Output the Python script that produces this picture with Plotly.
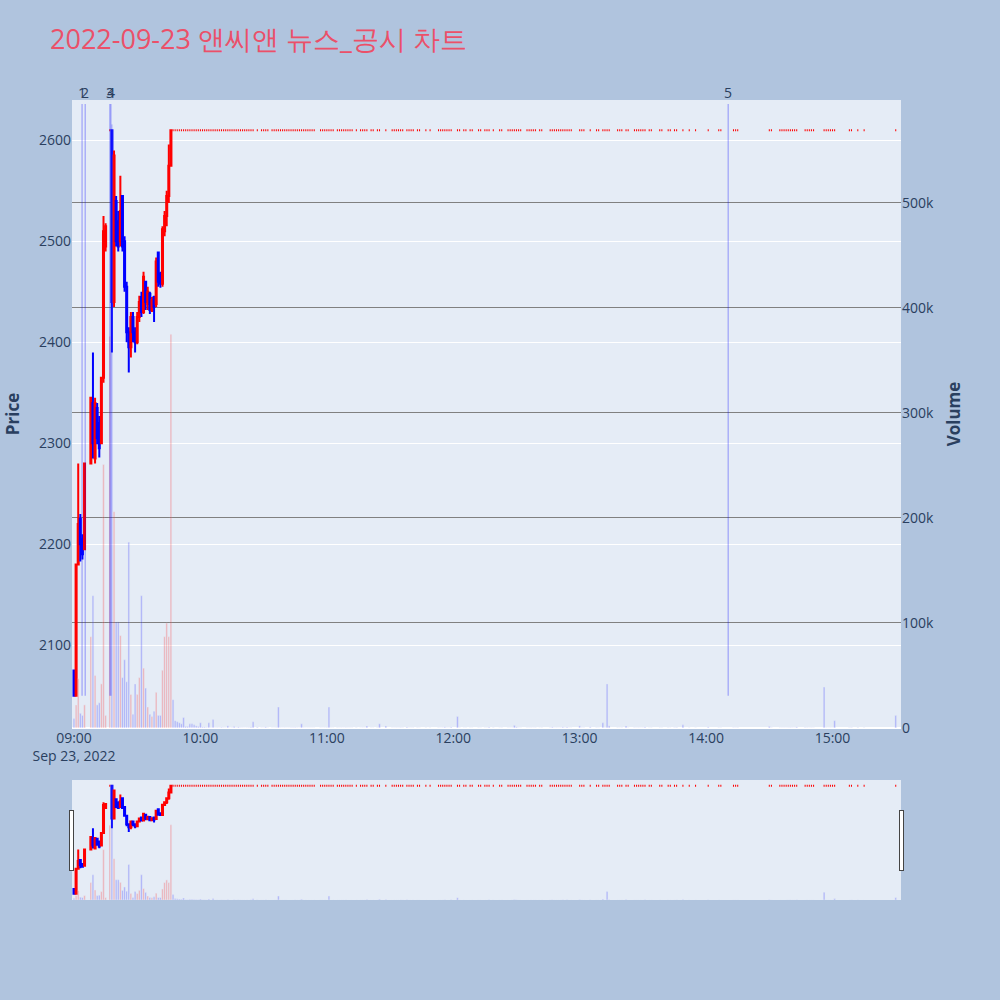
import plotly.graph_objs as go

DATE = "2022-09-23"
TITLE = "2022-09-23 앤씨앤 뉴스_공시 차트"

# 장 초반 분봉 (09:00 ~ 09:46)
am_time = ["09:00", "09:01", "09:02", "09:03", "09:04", "09:05", "09:08", "09:09",
           "09:10", "09:11", "09:12", "09:13", "09:14", "09:15", "09:17", "09:18",
           "09:19", "09:20", "09:21", "09:22", "09:23", "09:24", "09:25", "09:26",
           "09:27", "09:28", "09:29", "09:30", "09:31", "09:32", "09:33", "09:34",
           "09:35", "09:36", "09:37", "09:38", "09:39", "09:40", "09:41", "09:42",
           "09:43", "09:44", "09:45", "09:46"]
am_open = [2075, 2050, 2180, 2225, 2205, 2195, 2280, 2340,
           2285, 2335, 2320, 2300, 2365, 2495, 2610, 2610,
           2440, 2540, 2520, 2500, 2545, 2500, 2455, 2410,
           2395, 2425, 2410, 2400, 2425, 2445, 2430, 2460,
           2438, 2448, 2432, 2445, 2438, 2489, 2468, 2458,
           2510, 2525, 2545, 2575]
am_high = [2075, 2180, 2280, 2230, 2210, 2280, 2345, 2390,
           2345, 2340, 2327, 2365, 2525, 2518, 2610, 2610,
           2590, 2545, 2530, 2565, 2545, 2505, 2460, 2415,
           2430, 2430, 2415, 2430, 2446, 2450, 2470, 2460,
           2455, 2450, 2445, 2446, 2484, 2490, 2470, 2515,
           2530, 2550, 2596, 2610]
am_low = [2050, 2050, 2180, 2183, 2185, 2195, 2280, 2285,
          2280, 2299, 2286, 2300, 2360, 2490, 2610, 2390,
          2435, 2495, 2490, 2495, 2490, 2450, 2400, 2370,
          2385, 2400, 2390, 2398, 2420, 2425, 2428, 2432,
          2432, 2428, 2430, 2420, 2435, 2455, 2454, 2455,
          2505, 2515, 2538, 2574]
am_close = [2050, 2180, 2220, 2200, 2190, 2280, 2345, 2300,
            2340, 2305, 2295, 2365, 2510, 2515, 2610, 2440,
            2585, 2500, 2495, 2530, 2495, 2455, 2410, 2395,
            2425, 2410, 2400, 2425, 2440, 2430, 2465, 2440,
            2450, 2432, 2442, 2435, 2480, 2460, 2458, 2512,
            2525, 2545, 2575, 2610]
am_volume = [9000, 22000, 47000, 14000, 12000, 22000, 87000, 126000,
             50000, 22000, 24000, 42000, 251000, 12000, 373000, 575000,
             206000, 101000, 101000, 88000, 48000, 65000, 44000, 177000,
             32000, 13000, 42000, 32000, 48000, 126000, 57000, 38000,
             20000, 13000, 11000, 16000, 34000, 12000, 12000, 55000,
             87000, 100000, 87000, 375000]

# 상한가 도달 후 체결이 있었던 분과 거래량
upper_limit = 2610
ul_time = ["09:47", "09:48", "09:49", "09:50", "09:51", "09:52", "09:53", "09:54",
           "09:55", "09:56", "09:57", "09:58", "09:59",
           "10:00", "10:01", "10:02", "10:03", "10:04", "10:05", "10:06", "10:07",
           "10:08", "10:09", "10:10", "10:11", "10:12", "10:13", "10:14", "10:15",
           "10:16", "10:17", "10:18", "10:19", "10:20", "10:21", "10:22", "10:23",
           "10:24", "10:25", "10:27", "10:29", "10:30", "10:31", "10:32",
           "10:34", "10:35", "10:36", "10:37", "10:38", "10:39", "10:40", "10:41",
           "10:42", "10:43", "10:44", "10:45", "10:46", "10:47", "10:48", "10:49",
           "10:50", "10:51", "10:52", "10:53", "10:54", "10:57", "10:58", "10:59",
           "11:00", "11:01", "11:02", "11:03", "11:05", "11:06", "11:07", "11:08",
           "11:09", "11:10", "11:11", "11:12", "11:14", "11:16", "11:17", "11:18",
           "11:19", "11:21", "11:22", "11:24", "11:25", "11:28", "11:31", "11:32",
           "11:33", "11:34", "11:35", "11:36", "11:38", "11:39", "11:40", "11:41",
           "11:43", "11:44", "11:47", "11:49", "11:53", "11:54", "11:55", "11:56",
           "11:57", "11:58", "11:59",
           "12:02", "12:03", "12:05", "12:06", "12:08", "12:09", "12:12", "12:13",
           "12:15", "12:16", "12:17", "12:19", "12:22", "12:23", "12:26", "12:27",
           "12:28", "12:29", "12:30", "12:31", "12:32", "12:35", "12:36", "12:37",
           "12:38", "12:39", "12:41", "12:42", "12:46", "12:47", "12:48", "12:49",
           "12:50", "12:51", "12:52", "12:53", "12:54", "12:55", "12:56",
           "13:00", "13:01", "13:02", "13:05", "13:08", "13:09", "13:11", "13:12",
           "13:13", "13:14", "13:18", "13:19", "13:20", "13:22", "13:23", "13:26",
           "13:27", "13:28", "13:29", "13:30", "13:31", "13:33", "13:34", "13:38",
           "13:39", "13:42", "13:43", "13:45", "13:46", "13:49", "13:52", "13:55",
           "14:01", "14:06", "14:07", "14:13", "14:14", "14:15", "14:30", "14:31",
           "14:35", "14:36", "14:37", "14:38", "14:39", "14:40", "14:41", "14:42",
           "14:43", "14:47", "14:48", "14:49", "14:50", "14:51", "14:56", "14:57",
           "14:58", "14:59", "15:00", "15:01", "15:08", "15:09", "15:12", "15:15",
           "15:30"]
ul_volume = [27000, 7000, 6000, 5000, 4000, 10000, 1500, 1500,
             4000, 4000, 3000, 2000, 1500,
             5000, 1000, 1000, 600, 5000, 400, 8000, 300,
             500, 300, 800, 400, 300, 2000, 300, 500,
             1500, 300, 1000, 400, 300, 200, 300, 400,
             1000, 6000, 800, 300, 200, 1000, 300,
             300, 200, 400, 20000, 300, 200, 300, 200,
             300, 500, 400, 600, 300, 200, 4000, 300,
             200, 300, 200, 300, 200, 300, 200, 300,
             400, 20000, 300, 200, 300, 200, 300, 200,
             400, 300, 200, 300, 300, 200, 300, 200,
             2000, 300, 200, 300, 4000, 2000, 300, 200,
             300, 200, 500, 300, 1000, 300, 200, 300,
             300, 200, 300, 200, 300, 200, 300, 1000,
             200, 300, 1000,
             11000, 300, 200, 300, 300, 200, 300, 200,
             300, 200, 1000, 300, 200, 300, 300, 200,
             300, 2500, 1000, 300, 200, 300, 200, 300,
             200, 300, 200, 300, 300, 1000, 200, 300,
             200, 300, 1000, 200, 1000, 300, 200,
             2000, 300, 200, 1000, 300, 200, 5000, 300,
             42000, 2000, 300, 200, 300, 2000, 300, 300,
             200, 300, 200, 300, 1000, 200, 300, 300,
             200, 300, 200, 300, 500, 3000, 300, 200,
             1000, 300, 200, 300, 200, 300, 1500, 300,
             300, 200, 300, 200, 300, 500, 300, 200,
             1000, 500, 300, 200, 300, 200, 39000, 300,
             200, 300, 200, 7000, 300, 500, 500, 300,
             12000]

# 뉴스/공시 시각
news_no = ["1", "2", "3", "4", "5"]
news_time = ["09:03:50", "09:05:20", "09:17", "09:17:30", "14:10:30"]

# 화면에 보이는 시간 범위
x_range = [DATE + " 08:59:03", DATE + " 15:32:30"]


def draw_news_chart():
    # 분봉 데이터 합치기
    times = [DATE + " " + t for t in am_time + ul_time]
    opens = am_open + [upper_limit] * len(ul_time)
    highs = am_high + [upper_limit] * len(ul_time)
    lows = am_low + [upper_limit] * len(ul_time)
    closes = am_close + [upper_limit] * len(ul_time)
    volumes = am_volume + ul_volume

    # 거래량 색: 전 분봉 종가보다 오르면 빨강, 아니면 파랑
    vol_colors = []
    for i, c in enumerate(closes):
        prev = opens[0] if i == 0 else closes[i - 1]
        vol_colors.append("red" if c > prev else "blue")

    trace_candle = go.Candlestick(
        x=times, open=opens, high=highs, low=lows, close=closes,
        increasing=dict(line=dict(color="red"), fillcolor="red"),
        decreasing=dict(line=dict(color="blue"), fillcolor="blue"),
        name="Price"
    )
    trace_volume = go.Bar(
        x=times, y=volumes, marker_color=vol_colors, opacity=0.25,
        yaxis="y2", name="Volume"
    )

    # 뉴스 시각 세로선 + 번호
    y_bottom = min(lows)
    y_top = max(highs) * 1.01
    shapes = []
    annotations = []
    for no, t in zip(news_no, news_time):
        ts = DATE + " " + t
        shapes.append(dict(type="line", xref="x", yref="y", x0=ts, x1=ts,
                           y0=y_bottom, y1=y_top,
                           line=dict(color="blue", width=1.5), opacity=0.25))
        annotations.append(dict(x=ts, y=y_top, xref="x", yref="y", text=no,
                                showarrow=False, yanchor="bottom"))

    layout = go.Layout(
        width=1000, height=1000,
        font=dict(size=14),
        title=dict(text=TITLE, x=0.05, y=0.96, yanchor="middle",
                   font=dict(size=27, color="#EB5069")),
        paper_bgcolor="lightsteelblue",
        showlegend=False,
        margin=dict(l=72, r=99, t=100, b=100),
        xaxis=dict(type="date", range=x_range,
                   rangeslider=dict(visible=True, range=x_range)),
        yaxis=dict(title=dict(text="<b>Price</b>"), range=[2018, 2640]),
        yaxis2=dict(title=dict(text="<b>Volume</b>"), overlaying="y", side="right",
                    range=[0, 598000], showgrid=True, gridcolor="gray"),
        shapes=shapes,
        annotations=annotations
    )
    figure = go.Figure(data=[trace_candle, trace_volume], layout=layout)
    figure.write_html("out.html", config={"displayModeBar": False},
                      post_script="document.body.style.margin='0';")


if __name__ == '__main__':
    draw_news_chart()
